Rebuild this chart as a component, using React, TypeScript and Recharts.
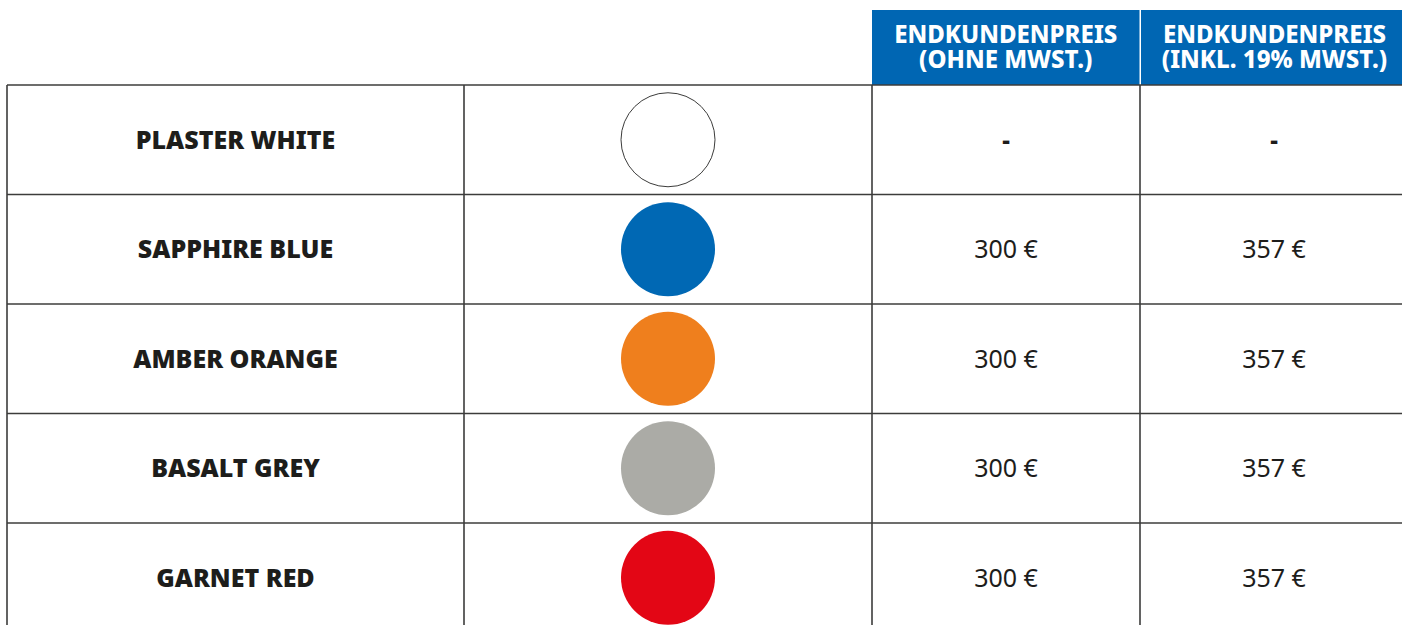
import { ScatterChart, Scatter, XAxis, YAxis, ReferenceLine, ReferenceArea } from "recharts";

const COLOUR_NAMES = ["PLASTER WHITE", "SAPPHIRE BLUE", "AMBER ORANGE", "BASALT GREY", "GARNET RED"];
const SWATCHES = ["#ffffff", "#0068b4", "#ef7f1d", "#ababa6", "#e30615"];
const NET_PRICES: (number | null)[] = [null, 300, 300, 300, 300];
const GROSS_PRICES: (number | null)[] = [null, 357, 357, 357, 357];
const HEADERS = [
  ["ENDKUNDENPREIS", "(OHNE MWST.)"],
  ["ENDKUNDENPREIS", "(INKL. 19% MWST.)"],
];

// layout (px-like units on the x scale)
const COL_WIDTHS = [457, 408, 268, 268];
const COL_EDGES = COL_WIDTHS.reduce<number[]>((acc, w) => [...acc, acc[acc.length - 1] + w], [0]);
const colCenter = (i: number) => (COL_EDGES[i] + COL_EDGES[i + 1]) / 2;
const ROW_PX = 109.5;
const TOP = 85;
const W = 1402;
const H = 625;
const Y_MAX = (H - TOP) / ROW_PX;
const HEADER_UNITS = (TOP - 10) / ROW_PX;

const BLUE = "#0066b3";
const INK = "#1d1d1b";
const LINE = "#3c3c3b";
const FONT = "'Noto Sans', sans-serif";

const fmt = (v: number | null) => (v == null ? "-" : `${v} €`);

const rows = COLOUR_NAMES.map((name, i) => ({
  y: i + 0.5,
  name,
  fill: SWATCHES[i],
  net: NET_PRICES[i],
  gross: GROSS_PRICES[i],
}));

const nameData = rows.map((r) => ({ ...r, x: colCenter(0) }));
const swatchData = rows.map((r) => ({ ...r, x: colCenter(1) }));
const netData = rows.map((r) => ({ ...r, x: colCenter(2) }));
const grossData = rows.map((r) => ({ ...r, x: colCenter(3) }));

const NameCell = (p: any) => (
  <text x={p.cx} y={p.cy} dy={9} textAnchor="middle" fontFamily={FONT} fontWeight={900} fontSize={25} fill={INK}>
    {p.payload.name}
  </text>
);

const Swatch = (p: any) => (
  <circle
    cx={p.cx}
    cy={p.cy}
    r={47}
    fill={p.payload.fill}
    stroke={p.payload.fill === "#ffffff" ? LINE : "none"}
    strokeWidth={1}
  />
);

const priceCell = (key: "net" | "gross") => (p: any) => {
  const v = p.payload[key];
  return (
    <text
      x={p.cx}
      y={p.cy}
      dy={9}
      textAnchor="middle"
      fontFamily={FONT}
      fontWeight={v == null ? 800 : 400}
      fontSize={v == null ? 24 : 25}
      fill={INK}
    >
      {fmt(v)}
    </text>
  );
};

const headerShape = (lines: string[]) => (p: any) => {
  const cx = p.x + p.width / 2;
  return (
    <g>
      <rect x={p.x} y={p.y} width={p.width} height={p.height} fill={BLUE} />
      <text x={cx} y={p.y + 33} textAnchor="middle" fontFamily={FONT} fontWeight={800} fontSize={24} fill="#ffffff">
        {lines.map((t, i) => (
          <tspan key={i} x={cx} dy={i === 0 ? 0 : 25}>
            {t}
          </tspan>
        ))}
      </text>
    </g>
  );
};

export default function App() {
  return (
    <div style={{ position: "absolute", left: 0, top: 0, width: W, height: H, overflow: "hidden", background: "#fff" }}>
      <ScatterChart width={W} height={H} margin={{ top: TOP, left: 7, right: 0, bottom: 0 }}>
        <XAxis type="number" dataKey="x" domain={[0, W - 7]} hide allowDataOverflow />
        <YAxis type="number" dataKey="y" domain={[0, Y_MAX]} reversed hide allowDataOverflow />
        {[0, 1, 2, 3, 4].map((i) => (
          <ReferenceLine key={`h${i}`} y={i} stroke={LINE} strokeWidth={1.6} ifOverflow="visible" />
        ))}
        {COL_EDGES.slice(0, 4).map((x, i) => (
          <ReferenceLine key={`v${i}`} x={x} stroke={LINE} strokeWidth={1.6} ifOverflow="visible" />
        ))}
        <ReferenceArea
          x1={COL_EDGES[2]}
          x2={COL_EDGES[3] - 0.5}
          y1={-HEADER_UNITS}
          y2={0}
          ifOverflow="visible"
          shape={headerShape(HEADERS[0])}
        />
        <ReferenceArea
          x1={COL_EDGES[3] + 1}
          x2={COL_EDGES[4]}
          y1={-HEADER_UNITS}
          y2={0}
          ifOverflow="visible"
          shape={headerShape(HEADERS[1])}
        />
        <Scatter data={nameData} shape={NameCell} isAnimationActive={false} />
        <Scatter data={swatchData} shape={Swatch} isAnimationActive={false} />
        <Scatter data={netData} shape={priceCell("net")} isAnimationActive={false} />
        <Scatter data={grossData} shape={priceCell("gross")} isAnimationActive={false} />
      </ScatterChart>
    </div>
  );
}
